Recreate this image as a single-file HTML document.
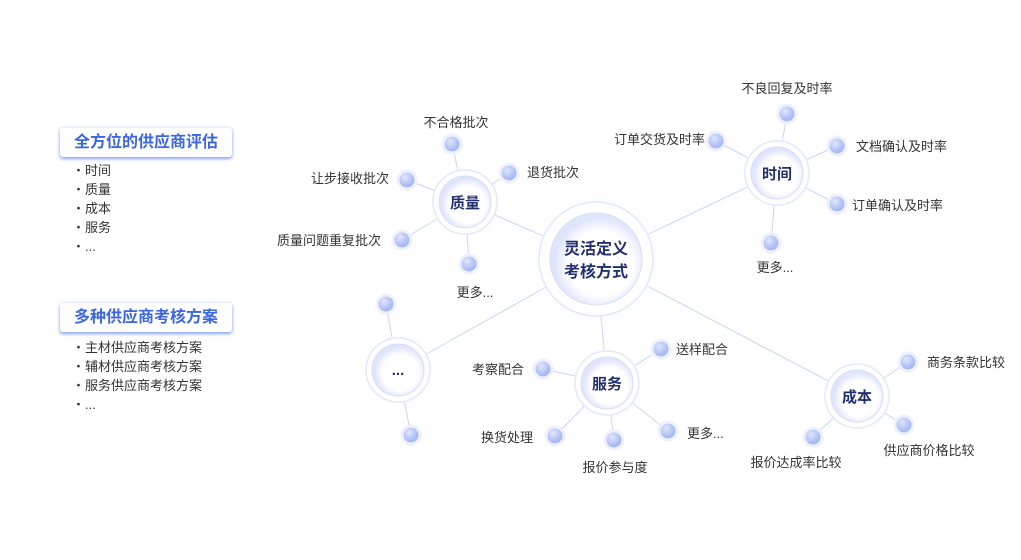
<!DOCTYPE html>
<html><head><meta charset="utf-8"><style>
body{margin:0;width:1021px;height:560px;background:#fff;font-family:"Liberation Sans","Noto Sans CJK SC",sans-serif;position:relative;overflow:hidden}
.box{position:absolute;left:60px;width:172px;height:29px;background:#fff;border-radius:3px;box-shadow:0 2px 3px rgba(60,100,230,.55),0 0 4px rgba(60,100,230,.2);color:#3a66e6;font-weight:bold;font-size:16px;line-height:29px;text-align:center}
.li{position:absolute;left:72px;font-size:13px;color:#333;line-height:19px}
svg{position:absolute;left:0;top:0}
</style></head><body>
<div class="box" style="top:128px">全方位的供应商评估</div>
<div class="li" style="top:161px">・时间<br>・质量<br>・成本<br>・服务<br>・...</div>
<div class="box" style="top:303px">多种供应商考核方案</div>
<div class="li" style="top:338px">・主材供应商考核方案<br>・辅材供应商考核方案<br>・服务供应商考核方案<br>・...</div>
<svg width="1021" height="560" font-family="Liberation Sans, Noto Sans CJK SC, sans-serif">
<defs>
<radialGradient id="glow"><stop offset="0.5" stop-color="#e8edfb" stop-opacity="1"/><stop offset="1" stop-color="#fff" stop-opacity="0"/></radialGradient>
<radialGradient id="dot" cx="0.4" cy="0.35"><stop offset="0" stop-color="#dfe6fd"/><stop offset="1" stop-color="#a9b9f2"/></radialGradient>
<radialGradient id="node" cx="0.55" cy="0.55"><stop offset="0.7" stop-color="#fff"/><stop offset="1" stop-color="#dfe5fb"/></radialGradient>
</defs>
<g stroke="#c9d3f5" stroke-width="1">
<line x1="596" y1="259" x2="465" y2="202"/><line x1="596" y1="259" x2="777" y2="173"/><line x1="596" y1="259" x2="607" y2="383"/><line x1="596" y1="259" x2="857" y2="396"/><line x1="596" y1="259" x2="398" y2="370"/>
<line x1="465" y1="202" x2="452" y2="144"/><line x1="465" y1="202" x2="509" y2="173"/><line x1="465" y1="202" x2="407" y2="180"/><line x1="465" y1="202" x2="402" y2="240"/><line x1="465" y1="202" x2="469" y2="264"/>
<line x1="777" y1="173" x2="787" y2="114"/><line x1="777" y1="173" x2="716" y2="141"/><line x1="777" y1="173" x2="837" y2="146"/><line x1="777" y1="173" x2="837" y2="204"/><line x1="777" y1="173" x2="771" y2="243"/>
<line x1="607" y1="383" x2="661" y2="349"/><line x1="607" y1="383" x2="543" y2="369"/><line x1="607" y1="383" x2="555" y2="436"/><line x1="607" y1="383" x2="614" y2="440"/><line x1="607" y1="383" x2="668" y2="431"/>
<line x1="857" y1="396" x2="908" y2="362"/><line x1="857" y1="396" x2="904" y2="425"/><line x1="857" y1="396" x2="813" y2="437"/>
<line x1="398" y1="370" x2="386" y2="304"/><line x1="398" y1="370" x2="411" y2="435"/>
</g>
<g>
<circle cx="596" cy="259" r="75" fill="url(#glow)" opacity=".6"/>
<circle cx="596" cy="259" r="57" fill="#fff" stroke="#e3e8fa" stroke-width="1.5"/>
<circle cx="596" cy="259" r="46" fill="url(#node)" stroke="#d6def8"/>
</g>
<g>
<circle cx="465" cy="202" r="40" fill="url(#glow)" opacity=".5"/><circle cx="465" cy="202" r="32" fill="#fff" stroke="#e3e8fa" stroke-width="1.5"/><circle cx="465" cy="202" r="26" fill="url(#node)" stroke="#d6def8"/>
<circle cx="777" cy="173" r="40" fill="url(#glow)" opacity=".5"/><circle cx="777" cy="173" r="32" fill="#fff" stroke="#e3e8fa" stroke-width="1.5"/><circle cx="777" cy="173" r="26" fill="url(#node)" stroke="#d6def8"/>
<circle cx="607" cy="383" r="40" fill="url(#glow)" opacity=".5"/><circle cx="607" cy="383" r="32" fill="#fff" stroke="#e3e8fa" stroke-width="1.5"/><circle cx="607" cy="383" r="26" fill="url(#node)" stroke="#d6def8"/>
<circle cx="857" cy="396" r="40" fill="url(#glow)" opacity=".5"/><circle cx="857" cy="396" r="32" fill="#fff" stroke="#e3e8fa" stroke-width="1.5"/><circle cx="857" cy="396" r="26" fill="url(#node)" stroke="#d6def8"/>
<circle cx="398" cy="370" r="40" fill="url(#glow)" opacity=".5"/><circle cx="398" cy="370" r="32" fill="#fff" stroke="#e3e8fa" stroke-width="1.5"/><circle cx="398" cy="370" r="26" fill="url(#node)" stroke="#d6def8"/>
</g>
<g fill="url(#dot)" stroke="#eef1fd" stroke-width="3">
<circle cx="452" cy="144" r="9"/><circle cx="509" cy="173" r="9"/><circle cx="407" cy="180" r="9"/><circle cx="402" cy="240" r="9"/><circle cx="469" cy="264" r="9"/>
<circle cx="787" cy="114" r="9"/><circle cx="716" cy="141" r="9"/><circle cx="837" cy="146" r="9"/><circle cx="837" cy="204" r="9"/><circle cx="771" cy="243" r="9"/>
<circle cx="661" cy="349" r="9"/><circle cx="543" cy="369" r="9"/><circle cx="555" cy="436" r="9"/><circle cx="614" cy="440" r="9"/><circle cx="668" cy="431" r="9"/>
<circle cx="908" cy="362" r="9"/><circle cx="904" cy="425" r="9"/><circle cx="813" cy="437" r="9"/>
<circle cx="386" cy="304" r="9"/><circle cx="411" cy="435" r="9"/>
</g>
<g fill="#233070" font-weight="bold" text-anchor="middle" font-size="15">
<text x="596" y="254" font-size="16">灵活定义</text><text x="596" y="277" font-size="16">考核方式</text>
<text x="465" y="208">质量</text><text x="777" y="179">时间</text><text x="607" y="389">服务</text><text x="857" y="402">成本</text><text x="398" y="375">...</text>
</g>
<g fill="#333" font-size="13">
<text x="456" y="127" text-anchor="middle">不合格批次</text><text x="527" y="177">退货批次</text><text x="389" y="183" text-anchor="end">让步接收批次</text><text x="381" y="245" text-anchor="end">质量问题重复批次</text><text x="475" y="297" text-anchor="middle">更多...</text>
<text x="787" y="93" text-anchor="middle">不良回复及时率</text><text x="705" y="144" text-anchor="end">订单交货及时率</text><text x="856" y="151">文档确认及时率</text><text x="852" y="210">订单确认及时率</text><text x="775" y="272" text-anchor="middle">更多...</text>
<text x="676" y="354">送样配合</text><text x="524" y="374" text-anchor="end">考察配合</text><text x="533" y="442" text-anchor="end">换货处理</text><text x="615" y="472" text-anchor="middle">报价参与度</text><text x="687" y="438">更多...</text>
<text x="927" y="367">商务条款比较</text><text x="929" y="455" text-anchor="middle">供应商价格比较</text><text x="796" y="467" text-anchor="middle">报价达成率比较</text>
</g>
</svg>
</body></html>
